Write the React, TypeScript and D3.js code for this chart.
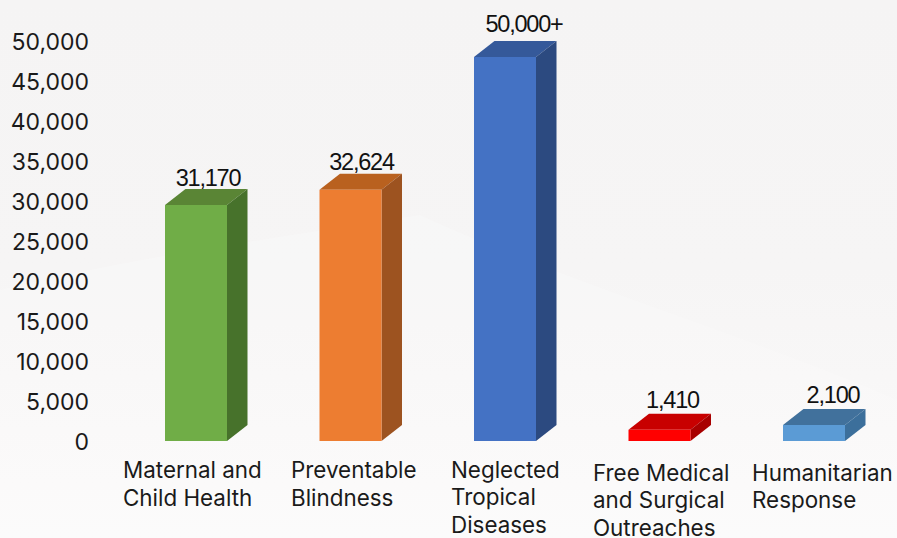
import React from "react";
import * as d3 from "d3";

const categories = ["Maternal and Child Health", "Preventable Blindness", "Neglected Tropical Diseases", "Free Medical and Surgical Outreaches", "Humanitarian Response"];
const categoryLines = [["Maternal and", "Child Health"], ["Preventable", "Blindness"], ["Neglected", "Tropical", "Diseases"], ["Free Medical", "and Surgical", "Outreaches"], ["Humanitarian", "Response"]];
const valueLabels = ["31,170", "32,624", "50,000+", "1,410", "2,100"];
// Height of the front face
const frontValues = [29500, 31400, 48000, 1400, 2000];
const yTicks = [0, 5000, 10000, 15000, 20000, 25000, 30000, 35000, 40000, 45000, 50000];
const frontColors = ["#70ad47", "#ed7d31", "#4472c4", "#ff0000", "#5b9bd5"];
const sideColors = ["#47722b", "#9d5320", "#2c4a80", "#a80000", "#3c6f9b"];
const topColors = ["#5a8535", "#b9611f", "#35599a", "#c80000", "#41719c"];
const labelDx = [12, 11, 19, 13, 19];
const labelDy = [3, 4, 9, 6, 6];
const catX = [123, 291, 451, 593, 752];
const catY = [478, 478, 477.5, 480.5, 480.5];

const W = 897, H = 538, DX = 20.5, DY = 16;
const y = d3.scaleLinear().domain([0, 50000]).range([441, 41]);
const x = d3.scaleBand<string>().domain(categories).range([118.75, 891.25]).paddingInner(0.5987).paddingOuter(0.29935);
const fmt = d3.format(",");
const font = "Inter, 'Noto Sans', sans-serif";

export default function App() {
  return (
    <svg width={W} height={H} viewBox={`0 0 ${W} ${H}`} style={{ position: "absolute", left: 0, top: 0, display: "block" }} fontFamily={font}>
      <defs>
        <linearGradient id="bg" x1="0" y1="0" x2="0" y2="1">
          <stop offset="0" stopColor="#f5f4f4" />
          <stop offset="0.5" stopColor="#f6f5f5" />
          <stop offset="1" stopColor="#fbfafa" />
        </linearGradient>
      </defs>
      <rect width={W} height={H} fill="url(#bg)" />
      <path d="M0,290 C120,260 260,240 420,215 C560,280 760,340 897,400 L897,538 L0,538 Z" fill="#ffffff" opacity={0.2} />
      {yTicks.map((t) => (
        <text key={t} x={89} y={y(t)} dy="0.4em" textAnchor="end" fontSize={23} fill="#1a1a1a">{fmt(t)}</text>
      ))}
      {categories.map((c, i) => {
        const x0 = x(c)!;
        const x1 = x0 + x.bandwidth();
        const yTop = y(frontValues[i]);
        const yBase = y(0);
        return (
          <g key={c}>
            <polygon points={`${x0},${yTop} ${x1},${yTop} ${x1 + DX},${yTop - DY} ${x0 + DX},${yTop - DY}`} fill={topColors[i]} />
            <polygon points={`${x1},${yTop} ${x1 + DX},${yTop - DY} ${x1 + DX},${yBase - DY} ${x1},${yBase}`} fill={sideColors[i]} />
            <rect x={x0} y={yTop} width={x.bandwidth()} height={yBase - yTop} fill={frontColors[i]} />
            <text x={(x0 + x1) / 2 + labelDx[i]} y={yTop - DY - labelDy[i]} textAnchor="middle" fontFamily="'Liberation Sans', Arial, sans-serif" fontSize={23.5} letterSpacing={-1.2} fill="#111111">{valueLabels[i]}</text>
            <text fontSize={22.4} fill="#1a1a1a">
              {categoryLines[i].map((line, k) => (
                <tspan key={line} x={catX[i]} y={catY[i] + k * 27.8}>{line}</tspan>
              ))}
            </text>
          </g>
        );
      })}
    </svg>
  );
}
